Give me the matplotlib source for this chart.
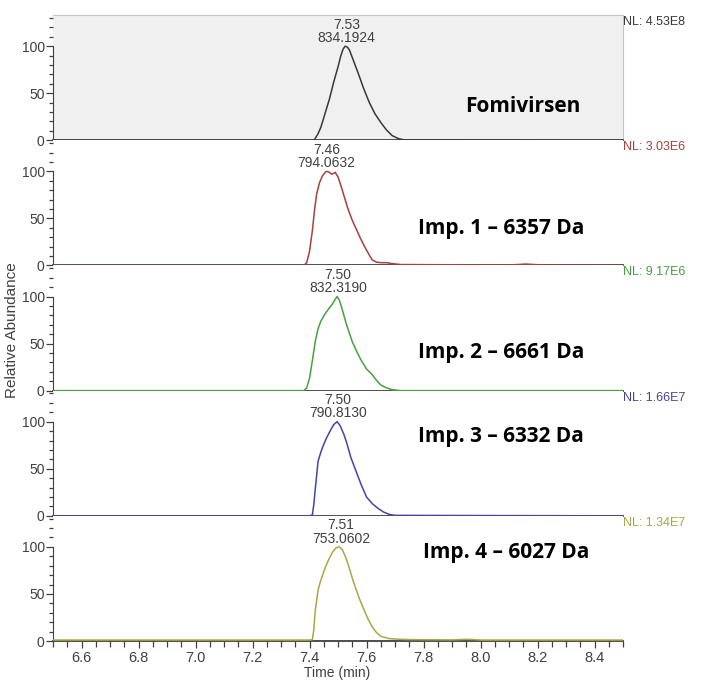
import matplotlib.pyplot as plt
from matplotlib.ticker import MultipleLocator

plt.rcParams['font.family'] = ['Liberation Sans', 'DejaVu Sans']

# ---------------- data ----------------
names = ["Fomivirsen", "Imp. 1 – 6357 Da", "Imp. 2 – 6661 Da",
         "Imp. 3 – 6332 Da", "Imp. 4 – 6027 Da"]
nl_values = ["NL: 4.53E8", "NL: 3.03E6", "NL: 9.17E6", "NL: 1.66E7", "NL: 1.34E7"]
peak_rt = [7.53, 7.46, 7.50, 7.50, 7.51]
peak_mz = ["834.1924", "794.0632", "832.3190", "790.8130", "753.0602"]

t_fomi = [6.50, 7.40, 7.416, 7.43, 7.44, 7.455, 7.47, 7.485, 7.50, 7.51, 7.518,
          7.525, 7.533, 7.54, 7.55, 7.56, 7.57, 7.59, 7.61, 7.63, 7.65, 7.67,
          7.69, 7.71, 7.73, 8.50]
i_fomi = [0, 0, 0, 7, 14, 29, 44, 62, 78, 90, 97, 100, 99, 96, 88, 80, 72, 55,
          40, 28, 19, 11, 5, 2, 0.5, 0]

t_imp1 = [6.50, 7.38, 7.39, 7.40, 7.41, 7.418, 7.425, 7.435, 7.445, 7.455, 7.46,
          7.47, 7.478, 7.485, 7.49, 7.50, 7.51, 7.52, 7.535, 7.55, 7.565, 7.58,
          7.595, 7.61, 7.62, 7.635, 7.65, 7.67, 7.69, 7.72, 8.10, 8.16, 8.22,
          8.50]
i_imp1 = [0, 0, 3, 15, 37, 60, 76, 88, 95, 99, 100, 99, 97, 98, 99, 94, 85, 75,
          60, 48, 38, 28, 19, 11, 6, 3.5, 3, 3, 2, 1, 0.5, 1.5, 0.5, 0]

t_imp2 = [6.50, 7.38, 7.39, 7.40, 7.41, 7.42, 7.43, 7.44, 7.455, 7.47, 7.48,
          7.49, 7.497, 7.505, 7.515, 7.53, 7.55, 7.565, 7.58, 7.60, 7.62, 7.635,
          7.65, 7.67, 7.69, 7.72, 8.50]
i_imp2 = [0, 0, 3, 13, 32, 52, 66, 74, 82, 88, 92, 97, 100, 96, 86, 70, 52, 42,
          33, 23, 17, 11, 6, 3, 1, 0, 0]

t_imp3 = [6.50, 7.40, 7.41, 7.415, 7.42, 7.43, 7.44, 7.45, 7.46, 7.472, 7.485,
          7.497, 7.507, 7.52, 7.53, 7.545, 7.565, 7.58, 7.60, 7.62, 7.64, 7.66,
          7.68, 7.70, 8.50]
i_imp3 = [0, 0, 1, 12, 28, 58, 68, 76, 83, 90, 97, 100, 96, 87, 78, 62, 46, 34,
          20, 13, 8, 4, 1.5, 0.5, 0]

t_imp4 = [6.50, 7.40, 7.41, 7.415, 7.42, 7.43, 7.437, 7.447, 7.455, 7.468, 7.48,
          7.493, 7.505, 7.515, 7.527, 7.54, 7.555, 7.575, 7.59, 7.606, 7.62,
          7.635, 7.65, 7.68, 7.72, 7.75, 7.90, 7.95, 7.98, 8.00, 8.50]
i_imp4 = [1, 1, 1.5, 12, 32, 54, 62, 71, 78, 87, 94, 99, 100, 97, 89, 77, 62,
          45, 34, 23, 15, 9, 5, 2.5, 1.8, 1.5, 1.2, 1.8, 1.5, 1, 1]

times = [t_fomi, t_imp1, t_imp2, t_imp3, t_imp4]
intens = [i_fomi, i_imp1, i_imp2, i_imp3, i_imp4]
colors = ["#383838", "#a8403c", "#48a040", "#4444a8", "#a8a848"]
# position of the bold sample names (time, relative abundance)
name_pos = [(7.946, 36), (7.781, 39), (7.781, 41), (7.781, 84), (7.798, 94)]

# ---------------- figure ----------------
fig, axes = plt.subplots(5, 1, figsize=(7.09, 6.88), dpi=100, sharex=True)
fig.subplots_adjust(left=0.0748, right=0.8787, bottom=0.0683, top=0.978, hspace=0)

for k, ax in enumerate(axes):
    ax.plot(times[k], intens[k], color=colors[k], lw=1.1, zorder=3)
    ax.set_xlim(6.5, 8.5)
    ax.set_ylim(0, 133)

    # y axis like Xcalibur: 0-50-100 with minor ticks each 10
    ax.set_yticks([0, 50, 100])
    ax.yaxis.set_minor_locator(MultipleLocator(10))
    ax.tick_params(axis='y', which='major', length=5, width=0.9,
                   labelsize=10, colors='#404040', pad=1)
    ax.tick_params(axis='y', which='minor', length=3, width=0.9,
                   colors='#404040')
    ax.spines['left'].set_bounds(0, 100)
    ax.spines['left'].set_color('#404040')
    ax.spines['bottom'].set_color('#404040')
    ax.spines['bottom'].set_linewidth(1.3)

    if k == 0:
        ax.set_facecolor('#f0f0f0')
        ax.spines['top'].set_color('#c4c4c4')
        ax.spines['right'].set_color('#c4c4c4')
    else:
        ax.spines['top'].set_visible(False)
        ax.spines['right'].set_visible(False)

    # peak annotation
    ax.annotate(f"{peak_rt[k]:.2f}\n{peak_mz[k]}", xy=(peak_rt[k], 100),
                xytext=(0, 1), textcoords='offset points',
                ha='center', va='bottom', fontsize=10, color='#404040',
                linespacing=0.92)

    # normalisation level
    ax.text(1.0, 0.944, nl_values[k], transform=ax.transAxes,
            ha='left', va='center', fontsize=9, color=colors[k])

    # sample name
    ax.text(name_pos[k][0], name_pos[k][1], names[k], ha='left', va='center',
            fontsize=15, fontweight='bold', family=['Open Sans', 'DejaVu Sans'],
            color='black')

    if k < 4:
        ax.tick_params(axis='x', which='both', bottom=False, labelbottom=False)

ax = axes[-1]
ax.xaxis.set_major_locator(MultipleLocator(0.2))
ax.xaxis.set_minor_locator(MultipleLocator(0.05))
ax.xaxis.set_major_formatter(plt.FormatStrFormatter('%.1f'))
ax.tick_params(axis='x', which='major', length=5, width=0.9, labelsize=10.5,
               colors='#404040', pad=2)
ax.tick_params(axis='x', which='minor', length=4, width=0.9, colors='#404040')

fig.text(337 / 709, 1 - 673 / 688, "Time (min)", ha='center', va='center',
         fontsize=10, color='#404040')
fig.text(12 / 709, 1 - 330 / 688, "Relative Abundance", rotation=90,
         ha='center', va='center', fontsize=11, color='#404040')

fig.savefig("out.png", dpi=100)
